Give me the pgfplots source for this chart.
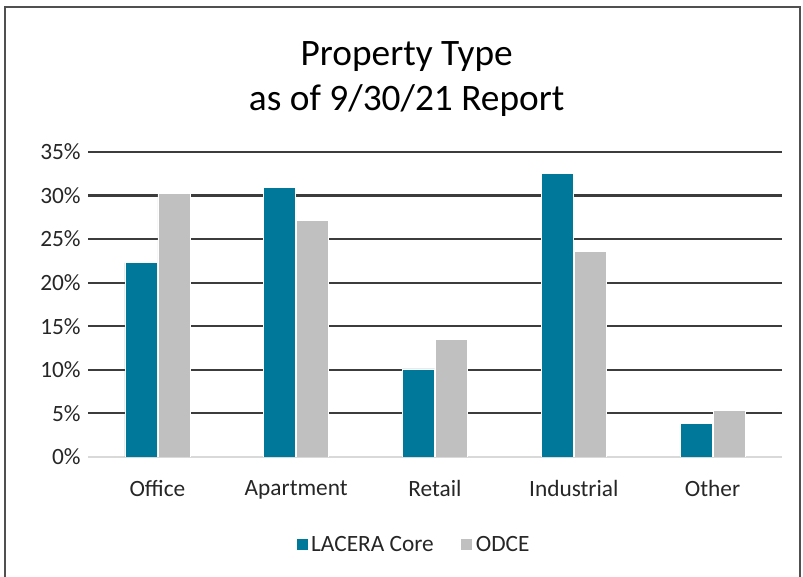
\documentclass[border=0pt]{standalone}
\usepackage{pgfplots}
\pgfplotsset{compat=1.18}
\usepackage{fontspec}
\setmainfont{Carlito}
\definecolor{lacera}{RGB}{0,120,154}
\definecolor{odce}{RGB}{191,192,191}
\definecolor{gridc}{RGB}{60,60,60}
\definecolor{framec}{RGB}{80,80,80}
\begin{document}
% 1 px of the reference = 0.75pt
\begin{tikzpicture}
\path[use as bounding box] (0,0) rectangle (602.25pt,432.75pt);
\draw[framec, line width=1.5pt] (3.75pt,-2pt) -- (3.75pt,427.5pt) -- (600pt,427.5pt) -- (600pt,-2pt);
\node[align=center, font=\fontsize{28}{34}\selectfont, text=black] at (305pt,373.5pt)
  {Property Type\\as of 9/30/21 Report};
\begin{axis}[
  at={(66pt,90pt)}, anchor=south west,
  scale only axis,
  width=520.5pt, height=228.75pt,
  ybar=0.75pt,
  bar width=24pt,
  xmin=-0.5, xmax=4.5,
  ymin=0, ymax=35,
  xtick=data,
  xticklabels={Office,Apartment,Retail,Industrial,Other},
  ytick={5,10,...,35},
  extra y ticks={0},
  extra y tick style={major grid style={draw=gray!30, line width=1.5pt}},
  yticklabel={\pgfmathprintnumber{\tick}\%},
  /pgf/number format/assume math mode=true,
  ymajorgrids,
  major grid style={draw=gridc, line width=1.6pt},
  axis line style={draw=none},
  major tick length=0pt,
  tick label style={font=\fontsize{17.5}{20}\selectfont, text=black!85},
  yticklabel style={xshift=-2pt},
  xticklabel style={yshift=-14pt},
  legend style={at={(0.4697,-0.287)}, anchor=center, draw=none,
    legend columns=2, font=\fontsize{17.5}{20}\selectfont, text=black!85,
    /tikz/every even column/.append style={column sep=18pt}},
  legend image code/.code={\fill[#1] (0pt,-4.5pt) rectangle (9pt,4.5pt);},
]
\addplot[fill=lacera, draw=white, line width=0.6pt] coordinates {(0,22.3) (1,30.9) (2,10.1) (3,32.5) (4,3.9)};
\addlegendentry{LACERA Core}
\addplot[fill=odce, draw=white, line width=0.6pt] coordinates {(0,30.2) (1,27.1) (2,13.5) (3,23.6) (4,5.3)};
\addlegendentry{ODCE}
\end{axis}
\end{tikzpicture}
\end{document}
